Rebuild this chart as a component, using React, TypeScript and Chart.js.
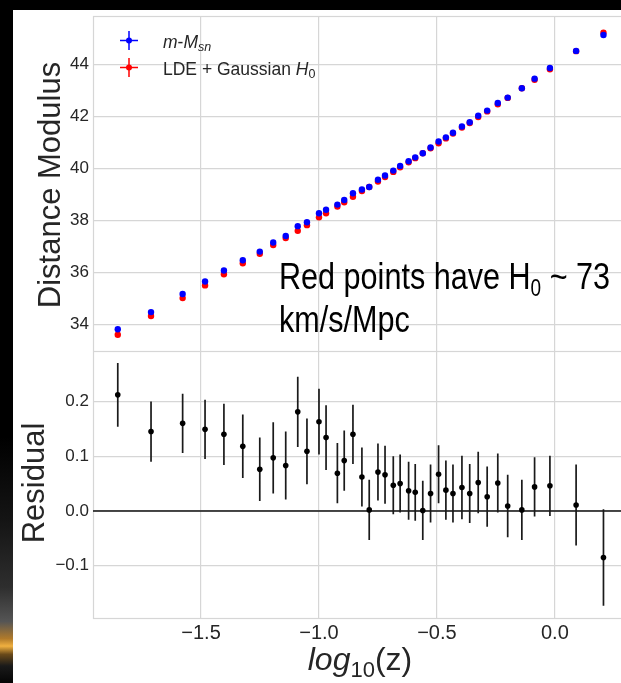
import React, { useEffect, useRef } from "react";
import { Chart, registerables } from "chart.js";

Chart.register(...registerables);

// ---------------- data ----------------
const logZ = [
  -1.853, -1.712, -1.578, -1.483, -1.403, -1.323, -1.251, -1.194, -1.141, -1.090,
  -1.051, -1.000, -0.970, -0.922, -0.893, -0.856, -0.818, -0.787, -0.750, -0.720,
  -0.685, -0.656, -0.620, -0.592, -0.560, -0.527, -0.493, -0.462, -0.432, -0.394,
  -0.361, -0.325, -0.287, -0.242, -0.200, -0.140, -0.086, -0.021, 0.090, 0.206,
];
// observed distance modulus (m - M_sn), blue
const muObserved = [
  33.81, 34.47, 35.17, 35.65, 36.07, 36.47, 36.80, 37.15, 37.40, 37.78,
  37.93, 38.28, 38.41, 38.61, 38.79, 39.05, 39.19, 39.29, 39.57, 39.73,
  39.92, 40.10, 40.28, 40.43, 40.59, 40.81, 41.04, 41.20, 41.38, 41.62,
  41.78, 42.03, 42.23, 42.52, 42.73, 43.09, 43.46, 43.87, 44.53, 45.14,
];
// LDE + Gaussian H0 model, red
const muModel = [
  33.60, 34.32, 35.01, 35.50, 35.93, 36.35, 36.72, 37.05, 37.32, 37.60,
  37.82, 38.12, 38.28, 38.54, 38.70, 38.91, 39.13, 39.29, 39.50, 39.67,
  39.87, 40.05, 40.24, 40.40, 40.59, 40.78, 40.97, 41.16, 41.35, 41.58,
  41.75, 41.98, 42.20, 42.47, 42.72, 43.09, 43.42, 43.82, 44.52, 45.23,
];
const residual = [
  0.212, 0.145, 0.160, 0.149, 0.140, 0.118, 0.076, 0.097, 0.083, 0.181,
  0.109, 0.163, 0.134, 0.069, 0.092, 0.140, 0.062, 0.002, 0.071, 0.066,
  0.047, 0.050, 0.037, 0.034, 0.001, 0.032, 0.067, 0.038, 0.032, 0.043,
  0.032, 0.052, 0.026, 0.051, 0.009, 0.002, 0.044, 0.046, 0.011, -0.085,
];
const residualErr = [
  0.058, 0.055, 0.054, 0.054, 0.056, 0.058, 0.058, 0.065, 0.062, 0.064,
  0.060, 0.060, 0.059, 0.055, 0.055, 0.054, 0.054, 0.055, 0.052, 0.053,
  0.053, 0.053, 0.053, 0.052, 0.054, 0.053, 0.053, 0.054, 0.053, 0.058,
  0.054, 0.056, 0.055, 0.054, 0.057, 0.055, 0.054, 0.055, 0.074, 0.088,
];
const xTickValues = [-1.5, -1.0, -0.5, 0.0];
const topYTicks = [34, 36, 38, 40, 42, 44];
const bottomYTicks = [-0.1, 0.0, 0.1, 0.2];

// ---------------- styling ----------------
const FONT = '"Liberation Sans", Arial, "DejaVu Sans", sans-serif';
const TEXT = "#262626";
const GRID = "#d6d6d6";
const X_MIN = -1.958;
const X_MAX = 0.31;

const fmtMinus = (v: number, d: number) =>
  (Math.abs(v) < 1e-9 ? 0 : v).toFixed(d).replace("-", "\u2212");

type Run = { t: string; f: string; dy?: number };
function drawRuns(ctx: CanvasRenderingContext2D, x: number, y: number, runs: Run[]) {
  let cx = x;
  for (const r of runs) {
    ctx.font = r.f;
    ctx.fillText(r.t, cx, y + (r.dy || 0));
    cx += ctx.measureText(r.t).width;
  }
  return cx;
}
function runsWidth(ctx: CanvasRenderingContext2D, runs: Run[]) {
  let w = 0;
  for (const r of runs) {
    ctx.font = r.f;
    w += ctx.measureText(r.t).width;
  }
  return w;
}

function drawSpines(chart: any) {
  const { ctx, chartArea: a } = chart;
  ctx.save();
  ctx.strokeStyle = GRID;
  ctx.lineWidth = 1.2;
  ctx.strokeRect(a.left + 0.5, a.top + 0.5, a.right - a.left, a.bottom - a.top);
  ctx.restore();
}

const zeroPad = (s: any) => {
  s.paddingTop = 0;
  s.paddingBottom = 0;
  s.paddingLeft = 0;
  s.paddingRight = 0;
};

const topDecor = {
  id: "topDecor",
  beforeDatasetsDraw(chart: any) {
    drawSpines(chart);
  },
  afterDraw(chart: any) {
    const ctx: CanvasRenderingContext2D = chart.ctx;
    ctx.save();
    ctx.fillStyle = TEXT;
    ctx.translate(47, 175);
    ctx.rotate(-Math.PI / 2);
    ctx.font = `31px ${FONT}`;
    ctx.textAlign = "center";
    ctx.textBaseline = "alphabetic";
    ctx.fillText("Distance Modulus", 0, 0);
    ctx.restore();

    // legend
    ctx.save();
    const items = [
      { color: "#0000ff", y: 30.5, runs: [
        { t: "m", f: `italic 17.5px ${FONT}` },
        { t: "-", f: `17.5px ${FONT}` },
        { t: "M", f: `italic 17.5px ${FONT}` },
        { t: "sn", f: `italic 12.5px ${FONT}`, dy: 3 },
      ] as Run[] },
      { color: "#ff0000", y: 57.5, runs: [
        { t: "LDE + Gaussian ", f: `17.5px ${FONT}` },
        { t: "H", f: `italic 17.5px ${FONT}` },
        { t: "0", f: `12.5px ${FONT}`, dy: 3 },
      ] as Run[] },
    ];
    for (const it of items) {
      const cx = 116;
      ctx.strokeStyle = it.color;
      ctx.fillStyle = it.color;
      ctx.lineWidth = 1.5;
      ctx.beginPath();
      ctx.moveTo(cx - 9, it.y);
      ctx.lineTo(cx + 9, it.y);
      ctx.moveTo(cx, it.y - 9.5);
      ctx.lineTo(cx, it.y + 9.5);
      ctx.stroke();
      ctx.beginPath();
      ctx.arc(cx, it.y, 3, 0, Math.PI * 2);
      ctx.fill();
      ctx.fillStyle = TEXT;
      ctx.textBaseline = "alphabetic";
      ctx.textAlign = "left";
      drawRuns(ctx, 150, it.y + 7, it.runs);
    }
    ctx.restore();

    // annotation
    ctx.save();
    ctx.fillStyle = "#000";
    ctx.textBaseline = "alphabetic";
    ctx.textAlign = "left";
    const line1: Run[] = [
      { t: "Red points have H", f: `37px ${FONT}` },
      { t: "0", f: `23px ${FONT}`, dy: 7 },
      { t: " ~ 73", f: `37px ${FONT}` },
    ];
    const w1 = runsWidth(ctx, line1);
    const sx = 331 / w1;
    ctx.translate(266, 0);
    ctx.scale(sx, 1);
    drawRuns(ctx, 0, 279, line1);
    drawRuns(ctx, 0, 322, [{ t: "km/s/Mpc", f: `37px ${FONT}` }]);
    ctx.restore();
  },
};

const bottomDecor = {
  id: "bottomDecor",
  beforeDatasetsDraw(chart: any) {
    drawSpines(chart);
    const { ctx, chartArea: a, scales } = chart;
    const ys = scales.y;
    const xs = scales.x;
    ctx.save();
    const y0 = ys.getPixelForValue(0);
    ctx.strokeStyle = "#111";
    ctx.lineWidth = 1.6;
    ctx.beginPath();
    ctx.moveTo(a.left, y0);
    ctx.lineTo(a.right, y0);
    ctx.stroke();
    ctx.strokeStyle = "#1a1a1a";
    ctx.lineWidth = 1.7;
    ctx.beginPath();
    for (let i = 0; i < logZ.length; i++) {
      const px = xs.getPixelForValue(logZ[i]);
      ctx.moveTo(px, ys.getPixelForValue(residual[i] + residualErr[i]));
      ctx.lineTo(px, ys.getPixelForValue(residual[i] - residualErr[i]));
    }
    ctx.stroke();
    ctx.restore();
  },
  afterDraw(chart: any) {
    const ctx: CanvasRenderingContext2D = chart.ctx;
    ctx.save();
    ctx.fillStyle = TEXT;
    ctx.translate(30.5, 132);
    ctx.rotate(-Math.PI / 2);
    ctx.font = `31px ${FONT}`;
    ctx.textAlign = "center";
    ctx.textBaseline = "alphabetic";
    ctx.fillText("Residual", 0, 0);
    ctx.restore();

    ctx.save();
    ctx.fillStyle = TEXT;
    ctx.textAlign = "left";
    ctx.textBaseline = "alphabetic";
    const runs: Run[] = [
      { t: "log", f: `italic 32px ${FONT}` },
      { t: "10", f: `22px ${FONT}`, dy: 7 },
      { t: "(z)", f: `32px ${FONT}` },
    ];
    const w = runsWidth(ctx, runs);
    drawRuns(ctx, 347 - w / 2, 319, runs);
    ctx.restore();
  },
};

const setTicks = (vals: number[]) => (scale: any) => {
  scale.ticks = vals.map((v) => ({ value: v }));
};

function makeXScale(showLabels: boolean) {
  return {
    type: "linear" as const,
    min: X_MIN,
    max: X_MAX,
    afterBuildTicks: setTicks(xTickValues),
    afterFit: (s: any) => {
      s.height = showLabels ? 65 : 0;
      zeroPad(s);
    },
    border: { display: false },
    grid: { color: GRID, lineWidth: 1.2, drawTicks: false },
    ticks: {
      display: showLabels,
      padding: 3,
      color: TEXT,
      font: { family: FONT, size: 20 },
      callback: (v: any) => fmtMinus(Number(v), 1),
    },
  };
}

function makeYScale(min: number, max: number, ticks: number[], digits: number) {
  return {
    type: "linear" as const,
    min,
    max,
    afterBuildTicks: setTicks(ticks),
    afterFit: (s: any) => {
      s.width = 80;
      zeroPad(s);
    },
    border: { display: false },
    grid: { color: GRID, lineWidth: 1.2, drawTicks: false },
    ticks: {
      padding: 4,
      color: TEXT,
      font: { family: FONT, size: 17 },
      callback: (v: any) => fmtMinus(Number(v), digits),
    },
  };
}

export default function App() {
  const topRef = useRef<HTMLCanvasElement>(null);
  const botRef = useRef<HTMLCanvasElement>(null);

  useEffect(() => {
    const top = new Chart(topRef.current!, {
      type: "scatter",
      data: {
        datasets: [
          {
            label: "m-M_sn",
            data: logZ.map((x, i) => ({ x, y: muObserved[i] })),
            pointBackgroundColor: "#0000ff",
            pointBorderWidth: 0,
            pointRadius: 3.2,
          },
          {
            label: "LDE + Gaussian H0",
            data: logZ.map((x, i) => ({ x, y: muModel[i] })),
            pointBackgroundColor: "#ff0000",
            pointBorderWidth: 0,
            pointRadius: 3.2,
          },
        ],
      },
      options: {
        animation: false,
        responsive: false,
        devicePixelRatio: 1,
        layout: { autoPadding: false, padding: { top: 6, left: 0, right: 0, bottom: 0 } },
        plugins: { legend: { display: false }, tooltip: { enabled: false } },
        scales: {
          x: makeXScale(false),
          y: makeYScale(32.973, 45.873, topYTicks, 0),
        },
      },
      plugins: [topDecor],
    } as any);

    const bottom = new Chart(botRef.current!, {
      type: "scatter",
      data: {
        datasets: [
          {
            label: "Residual",
            data: logZ.map((x, i) => ({ x, y: residual[i] })),
            pointBackgroundColor: "#000",
            pointBorderWidth: 0,
            pointRadius: 2.8,
          },
        ],
      },
      options: {
        animation: false,
        responsive: false,
        devicePixelRatio: 1,
        layout: { autoPadding: false, padding: 0 },
        plugins: { legend: { display: false }, tooltip: { enabled: false } },
        scales: {
          x: makeXScale(true),
          y: makeYScale(-0.1954, 0.2921, bottomYTicks, 1),
        },
      },
      plugins: [bottomDecor],
    } as any);

    return () => {
      top.destroy();
      bottom.destroy();
    };
  }, []);

  return (
    <div
      style={{
        position: "fixed",
        left: 0,
        top: 0,
        width: 621,
        height: 683,
        overflow: "hidden",
        background: "#fff",
      }}
    >
      <div style={{ position: "absolute", left: 0, top: 0, width: 621, height: 10, background: "#000" }} />
      <div
        style={{
          position: "absolute",
          left: 0,
          top: 0,
          width: 13,
          height: 683,
          background:
            "linear-gradient(to bottom, #000 0%, #000 64%, #141414 76%, #2e2e2e 86%, #555 91%, #b07a2a 93.5%, #f0b040 94.6%, #6a4a1a 95.8%, #1a1a1a 97.5%, #050505 100%)",
        }}
      />
      <canvas
        ref={topRef}
        width={615}
        height={341}
        style={{ position: "absolute", left: 13, top: 10, width: 615, height: 341, display: "block" }}
      />
      <canvas
        ref={botRef}
        width={615}
        height={332}
        style={{ position: "absolute", left: 13, top: 351, width: 615, height: 332, display: "block" }}
      />
    </div>
  );
}
